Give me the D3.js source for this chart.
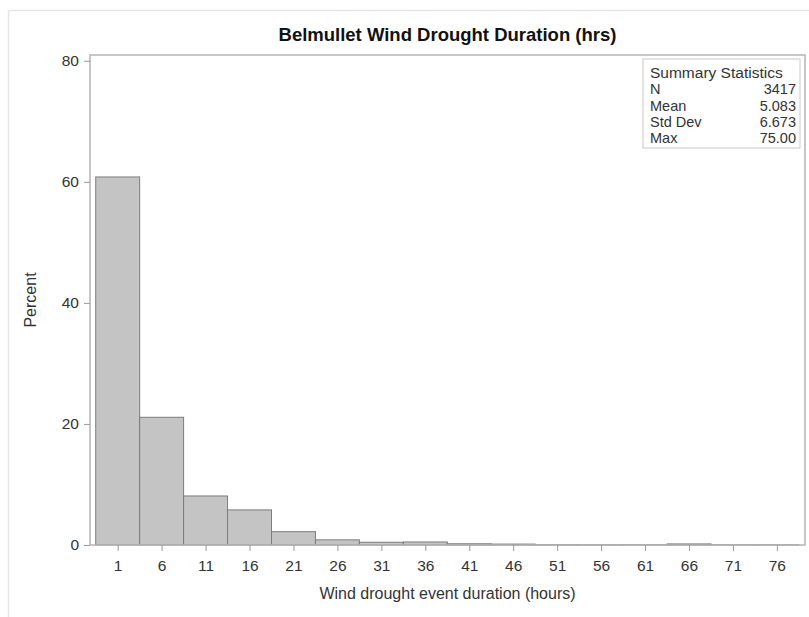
<!DOCTYPE html>
<html>
<head>
<meta charset="utf-8">
<script src="https://cdn.jsdelivr.net/npm/d3@7"></script>
<style>
  html, body { margin: 0; padding: 0; background: #fff; }
  svg { display: block; font-family: "Liberation Sans", Arial, sans-serif; }
</style>
</head>
<body>
<svg id="chart" width="809" height="617"></svg>
<script>
// Histogram bins: midpoint of each 5-hour class and the percent of events in it
const binMid = [1, 6, 11, 16, 21, 26, 31, 36, 41, 46, 51, 56, 61, 66, 71, 76];
const percent = [60.8, 21.1, 8.1, 5.8, 2.2, 0.85, 0.45, 0.5, 0.2, 0.15, 0.06, 0.04, 0.03, 0.18, 0.03, 0.03];
const binWidth = 5;
const yTicks = [0, 20, 40, 60, 80];
const xTicks = binMid;

const statLabels = ["N", "Mean", "Std Dev", "Max"];
const statValues = ["3417", "5.083", "6.673", "75.00"];

const titleText = "Belmullet Wind Drought Duration (hrs)";
const xTitle = "Wind drought event duration (hours)";
const yTitle = "Percent";

const svg = d3.select("#chart");
const frame = { left: 90, right: 805, top: 55, bottom: 545 };

const x = d3.scaleLinear().domain([-2.15, 79.2]).range([frame.left, frame.right]);
const y = d3.scaleLinear().domain([0, 80.95]).range([frame.bottom, frame.top]);

// faint outer border of the graph area
svg.append("path")
  .attr("d", "M8.5,617 V10.5 H809")
  .attr("fill", "none").attr("stroke", "#e6e6e6").attr("stroke-width", 1.5);

// title
svg.append("text")
  .attr("x", (frame.left + frame.right) / 2).attr("y", 41)
  .attr("text-anchor", "middle")
  .attr("font-size", 18.5).attr("font-weight", "bold").attr("fill", "#111")
  .text(titleText);

// bars
svg.append("g").selectAll("rect")
  .data(binMid.map((m, i) => ({ m, p: percent[i] })))
  .join("rect")
  .attr("x", d => x(d.m - binWidth / 2))
  .attr("width", d => x(d.m + binWidth / 2) - x(d.m - binWidth / 2))
  .attr("y", d => y(d.p))
  .attr("height", d => y(0) - y(d.p))
  .attr("fill", "#c4c4c4")
  .attr("stroke", "#7c7c7c")
  .attr("stroke-width", 1);

// plot frame
svg.append("rect")
  .attr("x", frame.left).attr("y", frame.top)
  .attr("width", frame.right - frame.left).attr("height", frame.bottom - frame.top)
  .attr("fill", "none").attr("stroke", "#b4b4b4").attr("stroke-width", 1.5);

// y axis
const yAxis = svg.append("g")
  .attr("transform", `translate(${frame.left},0)`)
  .call(d3.axisLeft(y).tickValues(yTicks).tickSize(6).tickPadding(5));
yAxis.select(".domain").remove();
yAxis.selectAll(".tick line").attr("stroke", "#999");
yAxis.selectAll(".tick text")
  .attr("font-size", 15.5).attr("fill", "#333")
  .attr("font-family", "Liberation Sans, Arial, sans-serif");

// x axis
const xAxis = svg.append("g")
  .attr("transform", `translate(0,${frame.bottom})`)
  .call(d3.axisBottom(x).tickValues(xTicks).tickSize(6).tickPadding(9));
xAxis.select(".domain").remove();
xAxis.selectAll(".tick line").attr("stroke", "#999");
xAxis.selectAll(".tick text")
  .attr("font-size", 15.5).attr("fill", "#333")
  .attr("font-family", "Liberation Sans, Arial, sans-serif");

// axis titles
svg.append("text")
  .attr("x", (frame.left + frame.right) / 2).attr("y", 599)
  .attr("text-anchor", "middle")
  .attr("font-size", 16).attr("fill", "#333")
  .text(xTitle);

svg.append("text")
  .attr("transform", `translate(36,${(frame.top + frame.bottom) / 2}) rotate(-90)`)
  .attr("text-anchor", "middle")
  .attr("font-size", 16).attr("fill", "#333")
  .text(yTitle);

// summary statistics inset
const box = { x: 643, y: 59, w: 157, h: 89 };
const inset = svg.append("g");
inset.append("rect")
  .attr("x", box.x).attr("y", box.y).attr("width", box.w).attr("height", box.h)
  .attr("fill", "#fff").attr("stroke", "#c8c8c8").attr("stroke-width", 1);
inset.append("text")
  .attr("x", box.x + 7).attr("y", box.y + 19)
  .attr("font-size", 15.5).attr("fill", "#333")
  .text("Summary Statistics");
statLabels.forEach((lab, i) => {
  const yy = box.y + 19 + 16.3 * (i + 1);
  inset.append("text")
    .attr("x", box.x + 7).attr("y", yy)
    .attr("font-size", 14.5).attr("fill", "#333")
    .text(lab);
  inset.append("text")
    .attr("x", box.x + box.w - 4).attr("y", yy)
    .attr("text-anchor", "end")
    .attr("font-size", 14.5).attr("fill", "#333")
    .text(statValues[i]);
});
</script>
</body>
</html>
